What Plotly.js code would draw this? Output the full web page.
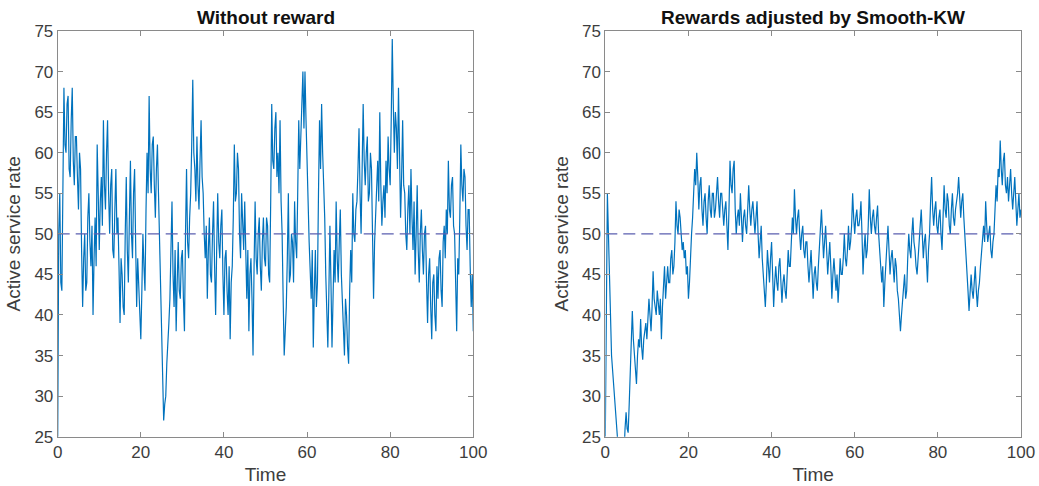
<!DOCTYPE html>
<html><head><meta charset="utf-8">
<script src="https://cdn.plot.ly/plotly-3.0.1.min.js"></script>
<style>html,body{margin:0;padding:0;background:#fff}#chart{width:1039px;height:486px}</style>
</head><body><div id="chart"></div>
<script>
// ---- data (one value every 0.25 time units) ----
const timeStep = 0.25;
const withoutReward = [
 25,50,55,44,43,60,68,61,60,66,67,58,57,64,68,59,56,62,62,57,
 53,60,58,48,41,47,50,43,44,52,55,49,46,51,40,47,52,46,61,55,
 48,54,57,51,64,56,53,60,64,55,50,56,58,48,47,53,58,50,52,46,
 39,47,45,41,40,50,57,48,44,52,59,50,47,55,58,49,41,47,44,40,
 37,43,50,46,43,53,60,55,67,58,55,61,62,56,52,58,61,55,50,44,
 39,33,27,29,30,34,36,39,42,47,54,45,41,48,38,44,49,43,42,47,
 48,42,38,50,58,49,47,52,55,61,69,60,58,54,62,56,53,59,64,57,
 55,50,47,51,42,48,52,45,44,50,54,46,40,48,55,49,47,51,53,45,
 40,47,48,43,40,46,37,44,46,52,61,54,55,60,58,50,47,55,52,48,
 54,47,42,48,38,45,47,42,35,46,54,47,45,50,52,46,43,49,52,47,
 46,52,51,45,44,54,66,59,58,63,65,57,60,55,64,54,50,42,35,38,
 41,47,55,44,45,50,49,44,54,49,47,55,64,58,62,67,70,63,70,64,
 60,54,49,45,42,48,36,43,48,41,44,55,64,58,66,60,56,52,45,41,
 36,43,51,44,36,42,48,44,54,47,44,49,53,45,41,38,35,42,40,36,
 34,43,48,44,55,50,49,53,54,58,63,55,50,58,66,59,56,60,62,54,
 55,60,58,50,42,49,53,57,59,54,65,56,51,54,56,52,59,55,62,58,
 56,64,74,66,60,65,63,58,68,60,52,57,64,56,55,50,48,53,56,50,
 58,52,48,54,45,50,56,48,44,50,53,48,45,50,51,44,39,45,47,41,
 37,44,45,40,38,46,42,47,48,43,41,49,51,47,53,50,59,53,52,56,
 57,51,50,44,38,47,45,52,61,56,54,58,57,51,48,53,53,46,41,45,
 38
];
const smoothKW = [
 25,48,55,50,43,40,35,33,31,29,27,24,22,20,20,19,21,22,23,26,
 28,26,25.5,29,33,37,40.5,37,35,33,31.5,35,37,36,39.5,36,34.5,37,38,39,
 37,39,42,40,38,41,45.4,42,41,40,43,41,40,42,37,41,44,46,42,44,
 46,44,44,47,48,45,46,49,54,51,50,53,52,50,48,49,47,48,45,46,
 42,44,48,50,52,55,58,56,60,57,53,56,57,53,51,54,55,52,50,54,
 56,53,52,55,55,52,53,55,57,54,52,55,55,53,51,53,54,51,48,53,
 59,56,55,58,59,53,50,52,53,51,55,52,49,52,53,51,50,53,56,53,
 51,53,54,52,50,52,54,50,47,49,51,47,45,43,41,44,48,46,44,47,
 49,45,41,44,46,44,43,46,47,44,41.5,44,45,43,42,45,48,46,46,49,
 52,50,55.5,52,50,52,53,50,48,50,51,48,47,49,49,46,44,46,48,45,
 42,45,46,44,43,46,48,50,53,50,47,49,51,48,45,47,49,46,42,45,
 47,45,43,45,41.5,44,47,45,45,47,50,47,46,48,51,48,49,51,55,52,
 50,52,53,51,51,52,54,50,45,48,50,47,48,51,55.5,52,50,52,53,51,
 50,52,53.5,50,48,46,44,46,41,44,46,48,51,48,45,47,48,46,44,47,
 46,43,42,40,38,40,42,44,45,42,43,47,50,48,47,50,52,49,48,46,
 45,47,49,51,53,50,47,49,50,47,44,48,50,54,57,53,51,53,54,51,
 50,52,53,50,48,52,56,53,52,55,54,51,50,53,55,52,51,53,54,55,
 57,54,52,54,55,52,50,48,46,43,40.5,43,45,43,42,44,46,43,41,43,
 44,46,48,50,51,49,54,51,49,50,51,48,47,49,50,53,56,54,58,57,
 61.5,58,56,59,60,56,55,57,54,56,58,55,53,55,57,54,51,53,55,52,
 53
];
const targetRate = 50;
const timeRange = [0, 100];
const rateRange = [25, 75];
const xTickVals = [0, 20, 40, 60, 80, 100];
const yTickVals = [25, 30, 35, 40, 45, 50, 55, 60, 65, 70, 75];
const panelTitles = ["Without reward", "Rewards adjusted by Smooth-KW"];
const xTitle = "Time";
const yTitle = "Active service rate";

// ---- styling ----
const W = 1039, H = 486;
const FONT = "Liberation Sans, Arial, Helvetica, sans-serif";
const lineBlue = "#0072BD";
const refColor = "#5b5fb0";
const boxColor = "#8a8a8a";
const tickText = "#3d3d3d";

const tOf = arr => arr.map((_, i) => i * timeStep);

const traces = [
  {x: tOf(withoutReward), y: withoutReward, xaxis: "x", yaxis: "y", type: "scatter", mode: "lines",
   line: {color: lineBlue, width: 1.2}, hoverinfo: "skip"},
  {x: timeRange, y: [targetRate, targetRate], xaxis: "x", yaxis: "y", type: "scatter", mode: "lines",
   line: {color: refColor, width: 1.2, dash: "12px,6px"}, hoverinfo: "skip"},
  {x: tOf(smoothKW), y: smoothKW, xaxis: "x2", yaxis: "y2", type: "scatter", mode: "lines",
   line: {color: lineBlue, width: 1.2}, hoverinfo: "skip"},
  {x: timeRange, y: [targetRate, targetRate], xaxis: "x2", yaxis: "y2", type: "scatter", mode: "lines",
   line: {color: refColor, width: 1.2, dash: "12px,6px"}, hoverinfo: "skip"}
];

const yTop = 1 - 31 / H, yBot = 1 - 436.7 / H;
const d1 = [57.7 / W, 473.3 / W], d2 = [605.3 / W, 1021 / W];

function xAxis(dom, anchor) {
  return {domain: dom, anchor: anchor, range: timeRange, tickvals: xTickVals,
    showgrid: false, zeroline: false, showline: true, mirror: "ticks", linecolor: boxColor, linewidth: 1,
    ticks: "inside", ticklen: 5, tickcolor: boxColor, tickwidth: 1,
    tickfont: {family: FONT, size: 17, color: tickText},
    title: {text: xTitle, font: {family: FONT, size: 19, color: tickText}, standoff: 6}};
}
function yAxis(anchor) {
  return {domain: [yBot, yTop], anchor: anchor, range: rateRange, tickvals: yTickVals,
    showgrid: false, zeroline: false, showline: true, mirror: "ticks", linecolor: boxColor, linewidth: 1,
    ticks: "inside", ticklen: 5, tickcolor: boxColor, tickwidth: 1,
    tickfont: {family: FONT, size: 17, color: tickText},
    title: {text: yTitle, font: {family: FONT, size: 19, color: tickText}, standoff: 8}};
}

const layout = {
  width: W, height: H, margin: {l: 0, r: 0, t: 0, b: 0},
  paper_bgcolor: "#fff", plot_bgcolor: "#fff", showlegend: false,
  xaxis: xAxis(d1, "y"), yaxis: yAxis("x"),
  xaxis2: xAxis(d2, "y2"), yaxis2: yAxis("x2"),
  annotations: [
    {text: "<b>" + panelTitles[0] + "</b>", xref: "paper", yref: "paper", x: (d1[0] + d1[1]) / 2, y: 1 - 17 / H,
     xanchor: "center", yanchor: "middle", showarrow: false, font: {family: FONT, size: 19, color: "#111"}},
    {text: "<b>" + panelTitles[1] + "</b>", xref: "paper", yref: "paper", x: (d2[0] + d2[1]) / 2, y: 1 - 17 / H,
     xanchor: "center", yanchor: "middle", showarrow: false, font: {family: FONT, size: 19, color: "#111"}}
  ]
};

Plotly.newPlot("chart", traces, layout, {staticPlot: true, displayModeBar: false});
</script></body></html>
